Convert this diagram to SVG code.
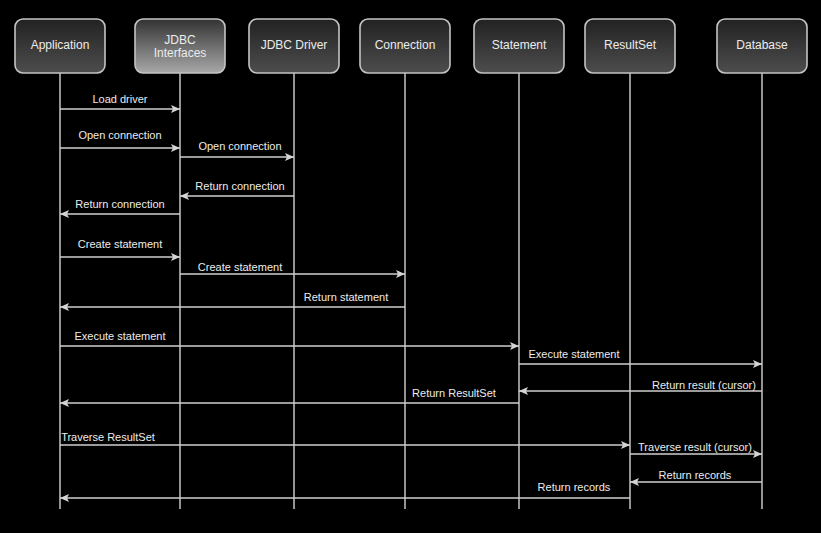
<svg xmlns="http://www.w3.org/2000/svg" width="821" height="533" viewBox="0 0 821 533">
<style>
.box{stroke:#c4c4c4;stroke-width:1.6;fill:url(#g1)}
.hl{fill:url(#g2)}
.nt{font-family:"Liberation Sans",Arial,sans-serif;font-size:12px;fill:#ececec;text-anchor:middle}
.life{stroke:#c4c4c4;stroke-width:1.5;fill:none}
.msg{stroke:#cfcfcf;stroke-width:1.5;fill:none;marker-end:url(#ah)}
.ml{font-family:"Liberation Sans",Arial,sans-serif;font-size:11px;fill:#ececec;text-anchor:middle}
</style>
<defs>
<linearGradient id="g1" x1="0" y1="0" x2="0" y2="1"><stop offset="0" stop-color="#222"/><stop offset="1" stop-color="#4d4d4d"/></linearGradient>
<linearGradient id="g2" x1="0" y1="0" x2="0" y2="1"><stop offset="0" stop-color="#333"/><stop offset="1" stop-color="#a8a8a8"/></linearGradient>
<marker id="ah" markerUnits="userSpaceOnUse" markerWidth="9" markerHeight="8" refX="9" refY="4" orient="auto"><path d="M0,0 L9,4 L0,8 L2,4 z" fill="#d4d4d4"/></marker>
</defs>
<rect width="821" height="533" fill="#000"/>
<g id="lifelines">
<path class="life" d="M60,73V509M180,73V509M294,73V509M405,73V509M519,73V509M630,73V509M762,73V509"/>
</g>
<g id="n-application"><rect class="box" x="15" y="19" width="90" height="54" rx="8"/><text class="nt" x="60" y="49">Application</text></g>
<g id="n-jdbc-interfaces"><rect class="box hl" x="135" y="19" width="90" height="54" rx="8"/><text class="nt" x="180" y="44">JDBC</text><text class="nt" x="180" y="57">Interfaces</text></g>
<g id="n-jdbc-driver"><rect class="box" x="249" y="19" width="90" height="54" rx="8"/><text class="nt" x="294" y="49">JDBC Driver</text></g>
<g id="n-connection"><rect class="box" x="360" y="19" width="90" height="54" rx="8"/><text class="nt" x="405" y="49">Connection</text></g>
<g id="n-statement"><rect class="box" x="474" y="19" width="90" height="54" rx="8"/><text class="nt" x="519" y="49">Statement</text></g>
<g id="n-resultset"><rect class="box" x="585" y="19" width="90" height="54" rx="8"/><text class="nt" x="630" y="49">ResultSet</text></g>
<g id="n-database"><rect class="box" x="717" y="19" width="90" height="54" rx="8"/><text class="nt" x="762" y="49">Database</text></g>
<g id="connectors">
<path class="msg" d="M60,109H180"/><text class="ml" x="120" y="103">Load driver</text>
<path class="msg" d="M60,148H180"/><text class="ml" x="120" y="139">Open connection</text>
<path class="msg" d="M180,157H294"/><text class="ml" x="240" y="150">Open connection</text>
<path class="msg" d="M294,196H180"/><text class="ml" x="240" y="190">Return connection</text>
<path class="msg" d="M180,214H60"/><text class="ml" x="120" y="208">Return connection</text>
<path class="msg" d="M60,257H180"/><text class="ml" x="120" y="248">Create statement</text>
<path class="msg" d="M180,274H405"/><text class="ml" x="240" y="271">Create statement</text>
<path class="msg" d="M405,307H60"/><text class="ml" x="346" y="301">Return statement</text>
<path class="msg" d="M60,346H519"/><text class="ml" x="120" y="340">Execute statement</text>
<path class="msg" d="M519,364H762"/><text class="ml" x="574" y="358">Execute statement</text>
<path class="msg" d="M762,391H519"/><text class="ml" x="704" y="389">Return result (cursor)</text>
<path class="msg" d="M519,403H60"/><text class="ml" x="454" y="397">Return ResultSet</text>
<path class="msg" d="M60,445H630"/><text class="ml" x="108" y="441">Traverse ResultSet</text>
<path class="msg" d="M630,454H762"/><text class="ml" x="695" y="451">Traverse result (cursor)</text>
<path class="msg" d="M762,482H630"/><text class="ml" x="695" y="479">Return records</text>
<path class="msg" d="M630,498H60"/><text class="ml" x="574" y="491">Return records</text>
</g>
</svg>
